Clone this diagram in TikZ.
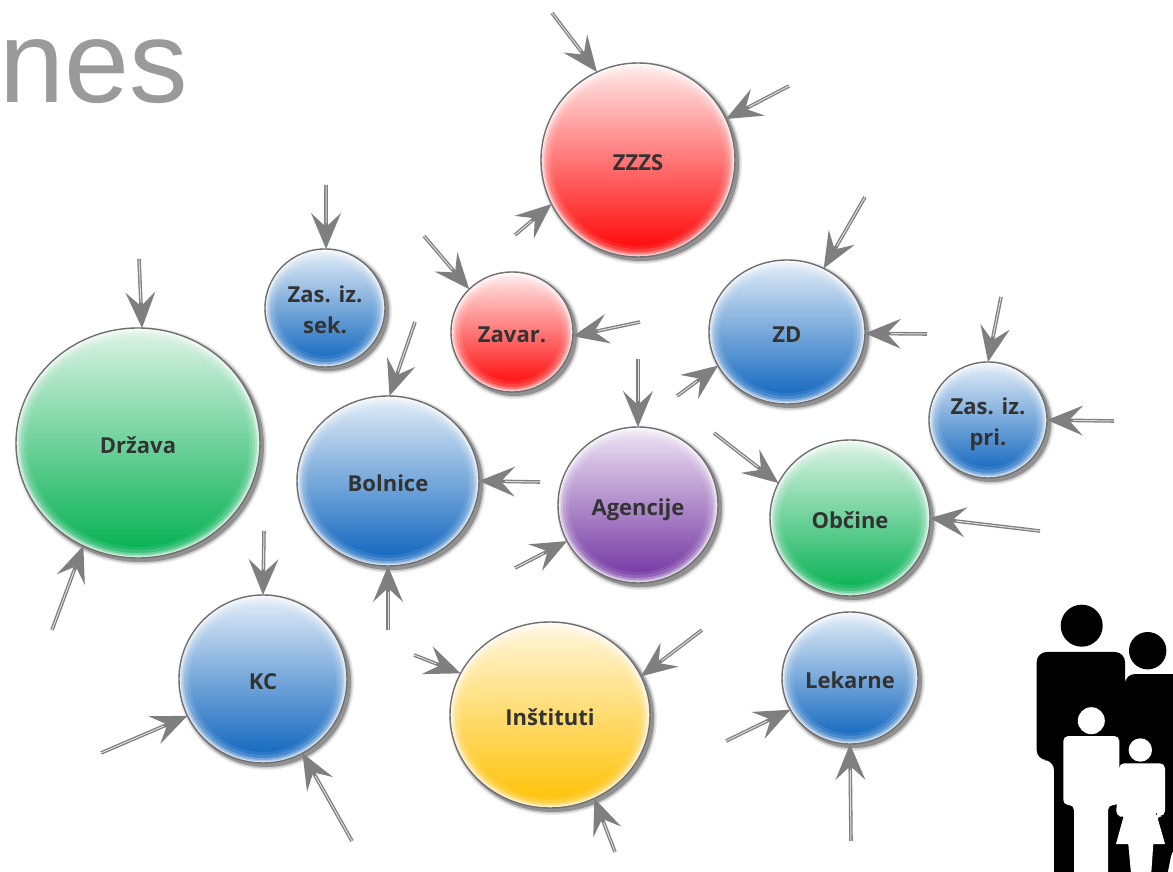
\documentclass[tikz,border=0pt]{standalone}
\usepackage{fontspec}
\setmainfont{Open Sans}
\newfontfamily\titlefont{Liberation Sans}
\usetikzlibrary{shapes.geometric,arrows.meta}
\definecolor{lblue}{HTML}{E4EEF8}\definecolor{mblue}{HTML}{6BA5DE}\definecolor{dblue}{HTML}{0A62BD}
\definecolor{lred}{HTML}{FFECEC}\definecolor{mred}{HTML}{FF8080}\definecolor{dred}{HTML}{FF0000}
\definecolor{lgreen}{HTML}{DDF3E6}\definecolor{mgreen}{HTML}{66CC90}\definecolor{dgreen}{HTML}{00B050}
\definecolor{lpurple}{HTML}{EFE6F5}\definecolor{mpurple}{HTML}{B48FD0}\definecolor{dpurple}{HTML}{7030A0}
\definecolor{lyellow}{HTML}{FFF7E0}\definecolor{myellow}{HTML}{FFE08A}\definecolor{dyellow}{HTML}{FFC000}
\definecolor{rimgray}{HTML}{707070}\definecolor{arrowgray}{HTML}{7F7F7F}\definecolor{labelgray}{HTML}{333333}
\definecolor{titlegray}{HTML}{9A9A9A}\definecolor{shaftcore}{HTML}{DDDDDD}
\tikzset{
  x=1pt,y=1pt,
  bubble/.style={ellipse,inner sep=0pt,outer sep=0pt,font=\bfseries\fontsize{22}{31}\selectfont,
    text=labelgray},
  flowhead/.style={draw=arrowgray,line width=0.4pt,
    -{Stealth[length=36pt,width=30pt,inset=14pt,fill=arrowgray,line width=0pt]}},
  flowshaft/.style={draw=arrowgray,line width=3.6pt,shorten >=20pt},
  flowcore/.style={draw=shaftcore,line width=1pt,shorten >=26pt},
}
% name, cx, cy(px from top), rx, ry, palette, text
\newcommand{\bub}[7]{%
  \foreach \o/\g in {0.08/4,0.14/2.5,0.28/1}{
    \fill[black,opacity=\o] (#2+3,871-#3-3) ellipse [x radius=#4+\g,y radius=#5+\g];}
  \path[top color=l#6,middle color=m#6,bottom color=d#6] (#2,871-#3) ellipse [x radius=#4,y radius=#5];
  \foreach \w/\o in {11/0.09,8/0.15,5/0.26,3/0.4,1.5/0.55}{
    \draw[white,opacity=\o,line width=\w pt] (#2,871-#3) ellipse [x radius=#4-\w/2,y radius=#5-\w/2];}
  \node[bubble,draw=rimgray,line width=1.4pt,minimum width=2*#4 pt,minimum height=2*#5 pt] (#1) at (#2,871-#3)
    {\raisebox{0pt}[\dimexpr\height+8pt\relax][\depth]{\begin{tabular}{@{}c@{}}#7\end{tabular}}};
}
\newcommand{\flowin}[4]{%
  \coordinate (#1) at (#2,871-#3);
  \draw[flowhead] (#1) -- (#4);
  \draw[flowshaft] (#1) -- (#4);
  \draw[flowcore] (#1) -- (#4);
}
\begin{document}
\begin{tikzpicture}
\useasboundingbox (0,0) rectangle (1173,871);
\fill[white] (0,0) rectangle (1173,871);
\node[anchor=base west,inner sep=0pt,text=titlegray,font=\titlefont\fontsize{117}{117}\selectfont] (title) at (-1,871-103) {nes};

\bub{zzzs}{638}{160}{97}{97}{red}{ZZZS}
\bub{zavar}{512}{332}{61}{60}{red}{Zavar.}
\bub{sek}{325}{308}{60}{59}{blue}{Zas. iz.\\sek.}
\bub{zd}{787}{332}{78}{72}{blue}{ZD}
\bub{pri}{988}{420}{59}{58}{blue}{Zas. iz.\\pri.}
\bub{drzava}{138}{443}{122}{115}{green}{Država}
\bub{bolnice}{388}{481}{91}{85}{blue}{Bolnice}
\bub{agencije}{638}{505}{80}{78}{purple}{Agencije}
\bub{obcine}{850}{518}{80}{78}{green}{Občine}
\bub{kc}{263}{679}{84}{84}{blue}{KC}
\bub{institut}{550}{715}{100}{93}{yellow}{Inštituti}
\bub{lekarne}{850}{678}{68}{66}{blue}{Lekarne}

\flowin{a1}{552}{13}{zzzs.115.5}
\flowin{a2}{789}{86}{zzzs.25.3}
\flowin{a3}{515}{235}{zzzs.207.4}
\flowin{b1}{424}{236}{zavar.135}
\flowin{b2}{640}{322}{zavar.-4.5}
\flowin{c1}{326}{185}{sek.89}
\flowin{d1}{865}{197}{zd.60.3}
\flowin{d2}{927}{334}{zd.-1.5}
\flowin{d3}{677}{396}{zd.206.6}
\flowin{e1}{1001}{297}{pri.90}
\flowin{e2}{1114}{421}{pri.0}
\flowin{f1}{139}{259}{drzava.88.5}
\flowin{f2}{52}{630}{drzava.242.4}
\flowin{g1}{415}{322}{bolnice.89.3}
\flowin{g2}{540}{482}{bolnice.0}
\flowin{g3}{388}{630}{bolnice.270}
\flowin{h1}{638}{359}{agencije.90}
\flowin{h2}{515}{568}{agencije.207.2}
\flowin{i1}{714}{433}{obcine.154}
\flowin{i2}{1040}{531}{obcine.0.7}
\flowin{j1}{264}{531}{kc.90}
\flowin{j2}{101}{753}{kc.206.6}
\flowin{j3}{352}{841}{kc.-62.2}
\flowin{k1}{414}{655}{institut.155.4}
\flowin{k2}{702}{630}{institut.23.7}
\flowin{k3}{615}{852}{institut.-62.1}
\flowin{l1}{726}{741}{lekarne.208.5}
\flowin{l2}{851}{841}{lekarne.270}

% family silhouette
\fill[black] (1081.7,871-625.7) circle (21);
\fill[black] (1147.7,871-650.7) circle (18.7);
\fill[black,rounded corners=10pt] (1036.7,871-760) -- (1036.7,871-652) -- (1125,871-652) -- (1125,871-690) -- (1125,871-674) -- (1185,871-674) -- (1185,871-846) -- (1173,871-846) -- (1166,-10) -- (1054,-10) -- (1054,871-760) -- cycle;
\fill[white] (1091.3,871-720.7) circle (13.5);
\fill[white,rounded corners=5pt] (1063.3,871-805) -- (1063.3,871-736) -- (1119.3,871-736) -- (1119.3,871-805) -- (1108,871-805) -- (1108,-10) -- (1074,-10) -- (1074,871-805) -- cycle;
\fill[white] (1140.3,871-750) circle (11.7);
\fill[white,rounded corners=5pt] (1116,871-816) -- (1119.3,871-763.3) -- (1165,871-763.3) -- (1165,871-816) -- (1157,871-816) -- (1157,871-817) -- (1124,871-817) -- cycle;
\fill[white] (1124,871-815) -- (1156.7,871-815) -- (1165,871-844) -- (1153.3,871-844) -- (1150.7,-10) -- (1131.7,-10) -- (1128.3,871-844) -- (1116,871-844) -- cycle;
\end{tikzpicture}
\end{document}
